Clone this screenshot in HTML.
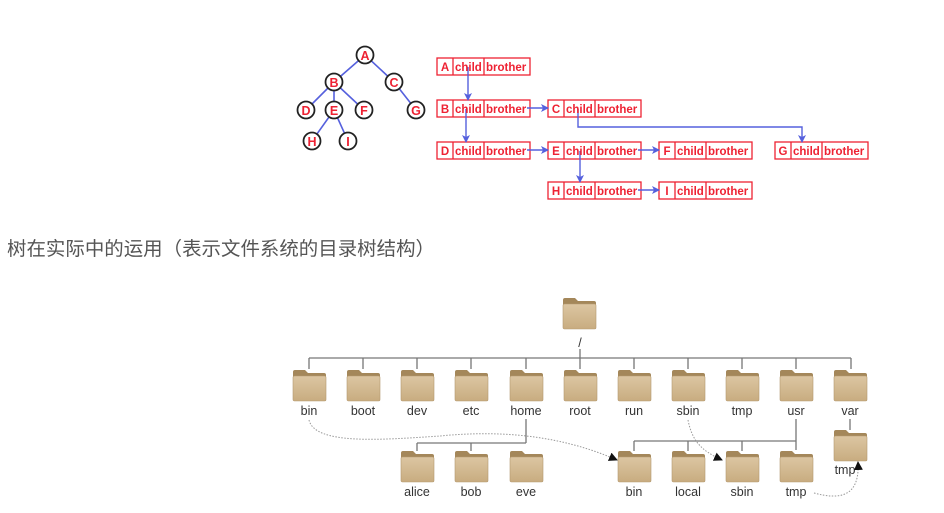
<!DOCTYPE html>
<html><head><meta charset="utf-8"><style>
html,body{margin:0;padding:0;background:#fff;width:944px;height:513px;overflow:hidden}
svg{display:block}
.n{font-family:"Liberation Sans",sans-serif;font-weight:bold;font-size:12.5px;fill:#ee2233}
.c{font-family:"Liberation Sans",sans-serif;font-weight:bold;font-size:11.5px;fill:#ee2233}
.l{font-family:"Liberation Sans",sans-serif;font-size:12.5px;fill:#333;text-anchor:middle}
</style></head><body>
<svg width="944" height="513" viewBox="0 0 944 513" xmlns="http://www.w3.org/2000/svg">
<defs>
<marker id="ar" markerWidth="8" markerHeight="8" refX="7" refY="4" orient="auto" markerUnits="userSpaceOnUse"><path d="M0,0 L8,4 L0,8 L2,4z" fill="#5560dd"/></marker>
<marker id="dk" markerWidth="9" markerHeight="9" refX="8" refY="4.5" orient="auto" markerUnits="userSpaceOnUse"><path d="M0,0 L9,4.5 L0,9z" fill="#111"/></marker>
<linearGradient id="fg" x1="0" y1="0" x2="0" y2="1"><stop offset="0" stop-color="#dcc6a2"/><stop offset="1" stop-color="#c8ac80"/></linearGradient>
<g id="fd">
<path d="M0,2 Q0,0 2,0 L12,0 L15,3 L31,3 Q33,3 33,5 L33,10 L0,10z" fill="#a4875a"/>
<rect x="0" y="6" width="33" height="25" rx="1.5" fill="url(#fg)" stroke="#b59a70" stroke-width="0.6"/>
</g>
</defs>
<g stroke="#5560dd" stroke-width="1.6">
<line x1="365" y1="55" x2="334" y2="82"/><line x1="365" y1="55" x2="394" y2="82"/>
<line x1="334" y1="82" x2="306" y2="110"/><line x1="334" y1="82" x2="334" y2="110"/><line x1="334" y1="82" x2="364" y2="110"/>
<line x1="394" y1="82" x2="416" y2="110"/>
<line x1="334" y1="110" x2="312" y2="141"/><line x1="334" y1="110" x2="348" y2="141"/>
</g>
<g fill="#fff" stroke="#222" stroke-width="1.8">
<circle cx="365" cy="55" r="8.5"/><circle cx="334" cy="82" r="8.5"/><circle cx="394" cy="82" r="8.5"/>
<circle cx="306" cy="110" r="8.5"/><circle cx="334" cy="110" r="8.5"/><circle cx="364" cy="110" r="8.5"/><circle cx="416" cy="110" r="8.5"/>
<circle cx="312" cy="141" r="8.5"/><circle cx="348" cy="141" r="8.5"/>
</g>
<g class="n" text-anchor="middle">
<text x="365" y="60">A</text><text x="334" y="87">B</text><text x="394" y="87">C</text>
<text x="306" y="115">D</text><text x="334" y="115">E</text><text x="364" y="115">F</text><text x="416" y="115">G</text>
<text x="312" y="146">H</text><text x="348" y="146">I</text>
</g>
<g fill="#fff" stroke="#ee2233" stroke-width="1.3">
<g id="rA"><rect x="437" y="58" width="93" height="17"/><line x1="453" y1="58" x2="453" y2="75"/><line x1="484" y1="58" x2="484" y2="75"/></g>
<use href="#rA" y="42"/><use href="#rA" y="84"/>
<use href="#rA" x="111" y="42"/><use href="#rA" x="111" y="84"/><use href="#rA" x="111" y="124"/>
<use href="#rA" x="222" y="84"/><use href="#rA" x="222" y="124"/><use href="#rA" x="338" y="84"/>
</g>
<g stroke="#5560dd" stroke-width="1.4" fill="none" marker-end="url(#ar)">
<line x1="468" y1="67" x2="468" y2="100"/>
<line x1="466" y1="109" x2="466" y2="142"/>
<line x1="527" y1="108" x2="548" y2="108"/>
<line x1="527" y1="150" x2="548" y2="150"/>
<line x1="638" y1="150" x2="659" y2="150"/>
<line x1="638" y1="190" x2="659" y2="190"/>
<line x1="580" y1="151" x2="580" y2="182"/>
<polyline points="578,109 578,127 802,127 802,142"/>
</g>
<g class="c">
<g><text x="445" y="71" text-anchor="middle">A</text><text x="455" y="71">child</text><text x="486" y="71">brother</text></g>
<g transform="translate(0,42)"><text x="445" y="71" text-anchor="middle">B</text><text x="455" y="71">child</text><text x="486" y="71">brother</text></g>
<g transform="translate(0,84)"><text x="445" y="71" text-anchor="middle">D</text><text x="455" y="71">child</text><text x="486" y="71">brother</text></g>
<g transform="translate(111,42)"><text x="445" y="71" text-anchor="middle">C</text><text x="455" y="71">child</text><text x="486" y="71">brother</text></g>
<g transform="translate(111,84)"><text x="445" y="71" text-anchor="middle">E</text><text x="455" y="71">child</text><text x="486" y="71">brother</text></g>
<g transform="translate(111,124)"><text x="445" y="71" text-anchor="middle">H</text><text x="455" y="71">child</text><text x="486" y="71">brother</text></g>
<g transform="translate(222,84)"><text x="445" y="71" text-anchor="middle">F</text><text x="455" y="71">child</text><text x="486" y="71">brother</text></g>
<g transform="translate(222,124)"><text x="445" y="71" text-anchor="middle">I</text><text x="455" y="71">child</text><text x="486" y="71">brother</text></g>
<g transform="translate(338,84)"><text x="445" y="71" text-anchor="middle">G</text><text x="455" y="71">child</text><text x="486" y="71">brother</text></g>
</g>
<text x="7" y="255" textLength="428" lengthAdjust="spacingAndGlyphs" style="font-family:'Liberation Sans','Noto Sans CJK SC',sans-serif;font-size:19px;fill:#555">树在实际中的运用（表示文件系统的目录树结构）</text>
<g stroke="#777" stroke-width="1.3" fill="none">
<line x1="580" y1="349" x2="580" y2="358"/>
<line x1="309" y1="358" x2="851" y2="358"/>
<line x1="309" y1="358" x2="309" y2="369"/><line x1="363" y1="358" x2="363" y2="369"/><line x1="417" y1="358" x2="417" y2="369"/><line x1="471" y1="358" x2="471" y2="369"/><line x1="526" y1="358" x2="526" y2="369"/><line x1="580" y1="358" x2="580" y2="369"/><line x1="634" y1="358" x2="634" y2="369"/><line x1="688" y1="358" x2="688" y2="369"/><line x1="742" y1="358" x2="742" y2="369"/><line x1="796" y1="358" x2="796" y2="369"/><line x1="851" y1="358" x2="851" y2="369"/>
<line x1="526" y1="419" x2="526" y2="443"/><line x1="417" y1="443" x2="526" y2="443"/>
<line x1="417" y1="443" x2="417" y2="451"/><line x1="471" y1="443" x2="471" y2="451"/>
<line x1="796" y1="419" x2="796" y2="450"/><line x1="634" y1="441" x2="796" y2="441"/>
<line x1="634" y1="441" x2="634" y2="451"/><line x1="688" y1="441" x2="688" y2="451"/><line x1="742" y1="441" x2="742" y2="451"/>
<line x1="850" y1="419" x2="850" y2="430"/>
</g>
<use href="#fd" x="563" y="298"/>
<use href="#fd" x="293" y="370"/><use href="#fd" x="347" y="370"/><use href="#fd" x="401" y="370"/><use href="#fd" x="455" y="370"/><use href="#fd" x="510" y="370"/><use href="#fd" x="564" y="370"/><use href="#fd" x="618" y="370"/><use href="#fd" x="672" y="370"/><use href="#fd" x="726" y="370"/><use href="#fd" x="780" y="370"/><use href="#fd" x="834" y="370"/>
<use href="#fd" x="401" y="451"/><use href="#fd" x="455" y="451"/><use href="#fd" x="510" y="451"/>
<use href="#fd" x="618" y="451"/><use href="#fd" x="672" y="451"/><use href="#fd" x="726" y="451"/><use href="#fd" x="780" y="451"/>
<use href="#fd" x="834" y="430"/>
<g class="l">
<text x="580" y="347">/</text>
<text x="309" y="415">bin</text><text x="363" y="415">boot</text><text x="417" y="415">dev</text><text x="471" y="415">etc</text><text x="526" y="415">home</text><text x="580" y="415">root</text><text x="634" y="415">run</text><text x="688" y="415">sbin</text><text x="742" y="415">tmp</text><text x="796" y="415">usr</text><text x="850" y="415">var</text>
<text x="417" y="496">alice</text><text x="471" y="496">bob</text><text x="526" y="496">eve</text>
<text x="634" y="496">bin</text><text x="688" y="496">local</text><text x="742" y="496">sbin</text><text x="796" y="496">tmp</text>
<text x="845" y="474">tmp</text>
</g>
<g stroke="#999" stroke-width="1" stroke-dasharray="1.5,1.5" fill="none" marker-end="url(#dk)">
<path d="M309,420 C315,445 380,440 440,436 C500,430 560,435 617,460"/>
<path d="M688,420 C692,440 700,450 722,460"/>
<path d="M814,493 C840,500 860,497 858,462"/>
</g>
</svg>
</body></html>
